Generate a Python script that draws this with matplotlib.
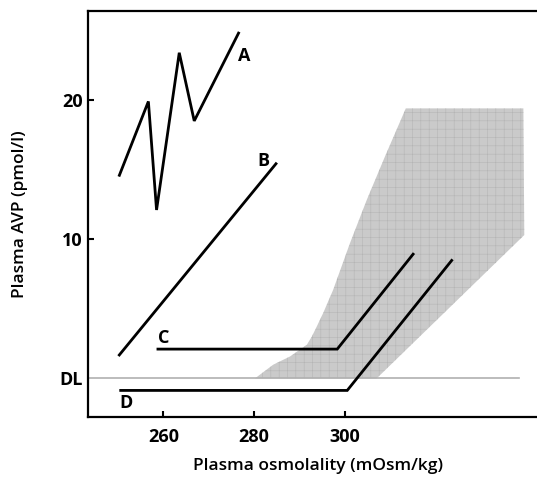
import matplotlib
matplotlib.use("Agg")
import matplotlib.pyplot as plt
from matplotlib.patches import Polygon

plt.rcParams['font.family'] = ['Open Sans', 'DejaVu Sans']
plt.rcParams['hatch.linewidth'] = 0.4

# Data (plasma osmolality in mOsm/kg, plasma AVP in pmol/l; DL = 0)
a_x = [250.2, 256.7, 258.5, 263.5, 266.8, 276.7]
a_y = [14.5, 19.9, 12.1, 23.4, 18.5, 24.9]
b_x = [250.1, 285.0]
b_y = [1.6, 15.5]
c_x = [258.5, 298.3, 315.2]
c_y = [2.1, 2.1, 9.0]
d_x = [250.3, 300.5, 323.7]
d_y = [-0.87, -0.87, 8.55]
dl_x = [243.4, 338.3]
dl_y = [0, 0]
band_x = [280.2, 284.2, 287.9, 291.6, 292.7, 293.8, 295.2, 297.4, 301.1, 304.8,
          308.8, 313.4, 339.3, 339.5, 307.0]
band_y = [0.0, 0.98, 1.57, 2.41, 3.0, 3.73, 4.69, 6.36, 9.71, 12.82,
          15.93, 19.4, 19.4, 10.3, 0.0]
labels = ['A', 'B', 'C', 'D']
label_x = [277.7, 282.0, 260.0, 251.8]
label_y = [23.2, 15.6, 2.9, -1.8]
xticks = [260, 280, 300]
yticks = [0, 10, 20]
yticklabels = ['DL', '10', '20']

fig = plt.figure(figsize=(5.37, 4.80), dpi=100)
ax = fig.add_axes([88/537, 1-417/480, 1-88/537, (417-11)/480])
ax.set_xlim(243.4, 342.3)
ax.set_ylim(-2.78, 26.4)

poly = Polygon(list(zip(band_x, band_y)), closed=True, facecolor='#cacaca',
               edgecolor='#b5b5b5', hatch='++', linewidth=0, zorder=1)
ax.add_patch(poly)

ax.plot(dl_x, dl_y, color='#b0b0b0', lw=1.2, zorder=2)
for xs, ys in [(a_x, a_y), (b_x, b_y), (c_x, c_y), (d_x, d_y)]:
    ax.plot(xs, ys, color='black', lw=2.0, solid_joinstyle='miter',
            solid_capstyle='butt', zorder=3)

for t, x, y in zip(labels, label_x, label_y):
    ax.text(x, y, t, ha='center', va='center', fontsize=13,
            fontweight='bold', zorder=4)

ax.spines['right'].set_visible(False)
for s in ['left', 'top', 'bottom']:
    ax.spines[s].set_linewidth(1.6)

ax.set_xticks(xticks)
ax.set_yticks(yticks)
ax.set_yticklabels(yticklabels)
ax.tick_params(direction='in', length=4, width=1.5, labelsize=13)
ax.tick_params(axis='x', pad=8)
ax.tick_params(axis='y', pad=4)
for lab in ax.get_xticklabels() + ax.get_yticklabels():
    lab.set_fontweight('bold')
ax.yaxis.get_major_ticks()[0].tick1line.set_visible(False)

ax.set_xlabel('Plasma osmolality (mOsm/kg)', fontsize=12.5, fontweight='semibold')
ax.xaxis.set_label_coords((318-88)/(537-88), -(466-417)/406)
ax.set_ylabel('Plasma AVP (pmol/l)', fontsize=12.5, fontweight='semibold')
ax.yaxis.set_label_coords(-(88-20)/449, 0.5)
ax.xaxis.label.set_va('center')
ax.yaxis.label.set_va('center')

fig.savefig('out.png', dpi=100)
